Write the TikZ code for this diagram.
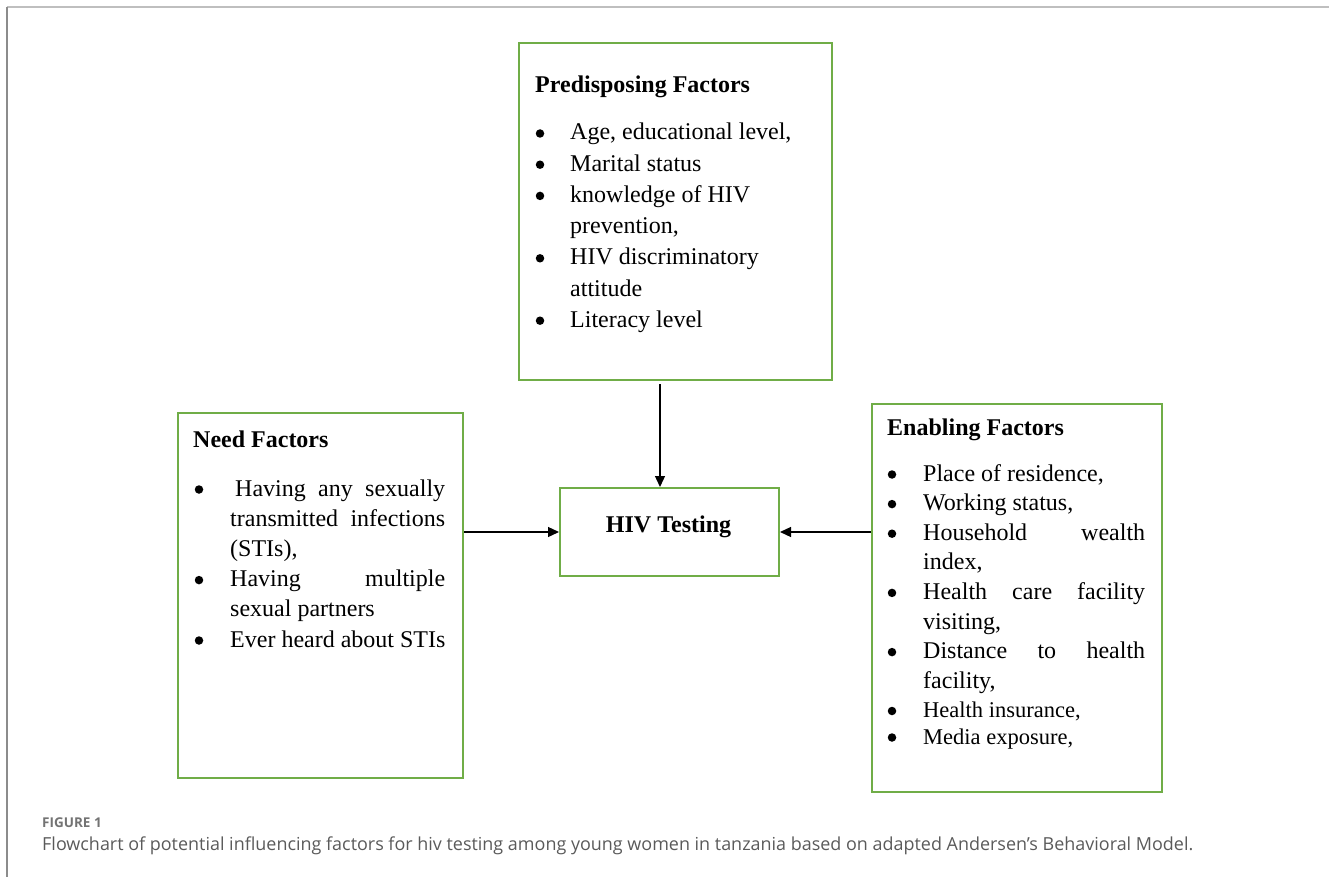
\documentclass[tikz,border=0pt]{standalone}
\usepackage{fontspec}
\setmainfont{Liberation Serif}
\newfontfamily\capfont{Open Sans}
\usetikzlibrary{arrows.meta}
\definecolor{boxgreen}{HTML}{70AD47}
\definecolor{capgray}{HTML}{5A5A5A}
\tikzset{
  fbox/.style={draw=boxgreen, line width=2pt, rectangle, inner sep=0pt, anchor=north west},
  arr/.style={draw=black, line width=1.3pt, -{Triangle[length=11pt,width=10pt]}},
  txt/.style={anchor=base west, inner sep=0pt, font=\fontsize{24}{28}\selectfont},
  ttl/.style={anchor=base west, inner sep=0pt, font=\fontsize{24}{28}\selectfont\bfseries},
  sml/.style={anchor=base west, inner sep=0pt, font=\fontsize{22.5}{26}\selectfont},
  bul/.style={fill=black, circle, inner sep=0pt, minimum size=8.5pt}
}
\begin{document}
\begin{tikzpicture}[x=1pt,y=-1pt]
\useasboundingbox (0,0) rectangle (1329,877);
% frame
\draw[color=black!25, line width=2pt] (7,7) -- (1329,7);
\draw[color=black!45, line width=1.5pt] (7,7) -- (7,877);

% boxes
\node[fbox, minimum width=313pt, minimum height=337pt] (pred) at (518,42) {};
\node[fbox, minimum width=285pt, minimum height=365pt] (need) at (177,412) {};
\node[fbox, minimum width=219pt, minimum height=88pt] (hiv) at (559,487) {};
\node[fbox, minimum width=290pt, minimum height=388pt] (enab) at (871,403) {};

% HIV Testing label
\node[anchor=base, inner sep=0pt, font=\fontsize{24}{28}\selectfont\bfseries] (hivt) at (668.5,532) {HIV Testing};

% Predisposing
\node[ttl] (pt) at (535,93) {Predisposing Factors};
\foreach \y/\n in {140/p1,171.2/p2,202.4/p3,264.8/p5,327.2/p7}{
  \node[bul] (b\n) at (540,\y-6.5) {};
}
\node[txt] (p1) at (570,140) {Age, educational level,};
\node[txt] (p2) at (570,171.2) {Marital status};
\node[txt] (p3) at (570,202.4) {knowledge of HIV};
\node[txt] (p4) at (570,233.6) {prevention,};
\node[txt] (p5) at (570,264.8) {HIV discriminatory};
\node[txt] (p6) at (570,296) {attitude};
\node[txt] (p7) at (570,327.2) {Literacy level};

% Need
\node[ttl] (nt) at (193,447) {Need Factors};
\foreach \y/\n in {496/n1,586.6/n4,647/n6}{
  \node[bul] (b\n) at (199,\y-6.5) {};
}
\node[txt] (n1) at (235,496) {\makebox[210pt][s]{Having any sexually}};
\node[txt] (n2) at (230,526.2) {\makebox[215pt][s]{transmitted infections}};
\node[txt] (n3) at (230,556.4) {(STIs),};
\node[txt] (n4) at (230,586.6) {\makebox[215pt][s]{Having multiple}};
\node[txt] (n5) at (230,616.8) {sexual partners};
\node[txt] (n6) at (230,647) {Ever heard about STIs};

% Enabling
\node[ttl] (et) at (887,435) {Enabling Factors};
\foreach \y/\n in {481/e1,510.6/e2,540.2/e3,599.4/e5,658.6/e7,717.5/e9,744/e10}{
  \node[bul] (b\n) at (892,\y-6.5) {};
}
\node[txt] (e1) at (923,481) {Place of residence,};
\node[txt] (e2) at (923,510.6) {Working status,};
\node[txt] (e3) at (923,540.2) {\makebox[222pt][s]{Household wealth}};
\node[txt] (e4) at (923,569.8) {index,};
\node[txt] (e5) at (923,599.4) {\makebox[222pt][s]{Health care facility}};
\node[txt] (e6) at (923,629) {visiting,};
\node[txt] (e7) at (923,658.6) {\makebox[222pt][s]{Distance to health}};
\node[txt] (e8) at (923,688.2) {facility,};
\node[sml] (e9) at (923,717.5) {Health insurance,};
\node[sml] (e10) at (923,744) {Media exposure,};

% connectors
\draw[arr] ([xshift=-15.5pt,yshift=-3pt]pred.south) -- ([xshift=-9.5pt]hiv.north);
\draw[arr] (need.east |- hiv.west) -- (hiv.west);
\draw[arr] (enab.west |- hiv.east) -- (hiv.east);

% caption
\node[anchor=base west, inner sep=0pt, text=capgray!85, font=\capfont\fontsize{13.5}{15}\selectfont\bfseries] (fig) at (42,827) {FIGURE 1};
\node[anchor=base west, inner sep=0pt, text=capgray, font=\capfont\fontsize{17.95}{20}\selectfont] (cap) at (42,850) {Flowchart of potential influencing factors for hiv testing among young women in tanzania based on adapted Andersen’s Behavioral Model.};
\end{tikzpicture}
\end{document}
